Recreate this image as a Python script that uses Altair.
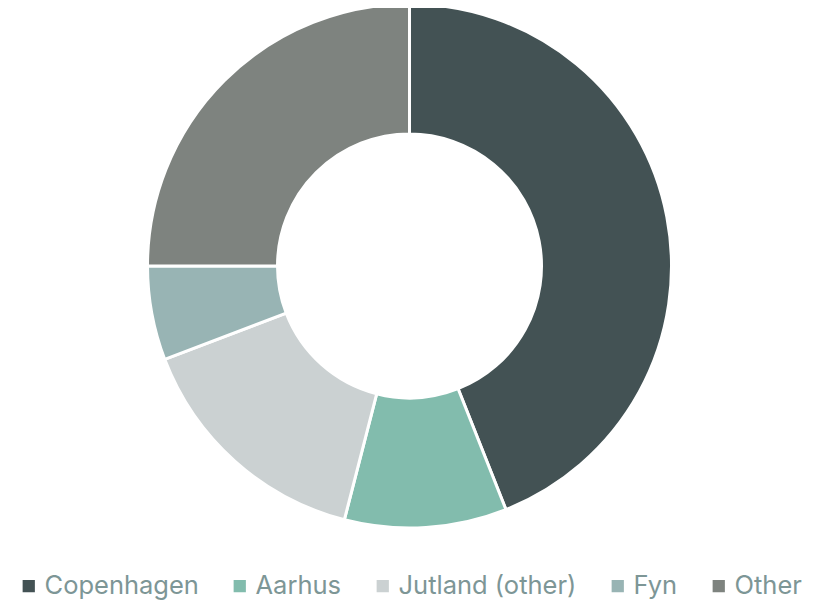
import altair as alt
import pandas as pd

categories = ["Copenhagen", "Aarhus", "Jutland (other)", "Fyn", "Other"]
values = [44, 10, 15.2, 5.8, 25]
colors = ["#435254", "#82bcad", "#cbd1d2", "#98b4b4", "#7e837f"]

df = pd.DataFrame({"region": categories, "value": values, "order": list(range(len(categories)))})

chart = alt.Chart(df).mark_arc(
    innerRadius=132, outerRadius=262, stroke="white", strokeWidth=3
).encode(
    x=alt.value(401.5),
    y=alt.value(258),
    theta=alt.Theta("value:Q", stack=True),
    order=alt.Order("order:Q"),
    color=alt.Color(
        "region:N",
        sort=categories,
        scale=alt.Scale(domain=categories, range=colors),
        legend=alt.Legend(
            title=None,
            orient="none",
            direction="horizontal",
            legendX=8,
            legendY=565,
            padding=0,
            symbolType="square",
            symbolSize=150,
            symbolStrokeWidth=0,
            labelFont="Inter",
            labelFontSize=25.5,
            labelColor="#7d9696",
            labelOffset=3,
            columnPadding=28,
            labelLimit=400,
        ),
    ),
).properties(
    width=810, height=592, padding=0, autosize="none"
).configure_view(stroke=None)

chart.save("out.html", embed_options={"renderer": "svg", "actions": False})
